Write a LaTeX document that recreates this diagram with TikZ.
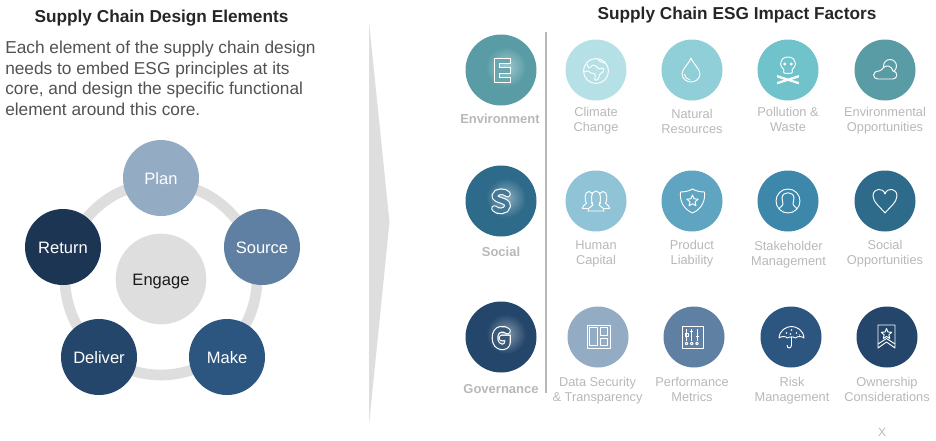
\documentclass[tikz,border=0pt]{standalone}
\usepackage{fontspec}
\setmainfont{Liberation Sans}
\definecolor{cA}{HTML}{B5E0E6}\definecolor{cB}{HTML}{90CFD7}\definecolor{cC}{HTML}{70C2CB}\definecolor{cD}{HTML}{5A9CA5}
\definecolor{cE}{HTML}{91C3D7}\definecolor{cF}{HTML}{5FA4C0}\definecolor{cG}{HTML}{3D87AB}\definecolor{cH}{HTML}{2E6A8A}
\definecolor{cI}{HTML}{93ABC3}\definecolor{cJ}{HTML}{5F80A3}\definecolor{cK}{HTML}{2C5580}\definecolor{cL}{HTML}{23466A}
\definecolor{cM}{HTML}{1B3552}\definecolor{ringgray}{HTML}{DEDEDE}\definecolor{labgray}{HTML}{B8B8B8}
\newcommand{\fsz}[1]{\fontsize{#1}{#1}\selectfont}
\newcommand{\fivestar}[1]{(-90:#1) -- (-54:0.45*#1) -- (-18:#1) -- (18:0.45*#1) -- (54:#1) -- (90:0.45*#1) -- (126:#1) -- (162:0.45*#1) -- (198:#1) -- (234:0.45*#1) -- cycle}
\newcommand{\inlineglyph}[3]{\draw[white,line width=5pt,#3] #2;\draw[#1,line width=3.3pt,#3] #2;}
\newcommand{\tl}[2]{\rule{0pt}{8pt}#1\\#2\rule[-2.5pt]{0pt}{2.5pt}}
\tikzset{
 x=0.75pt,y=-0.75pt,
 bubble/.style={circle,inner sep=0pt,minimum size=45.75pt,draw=none},
 bigbubble/.style={circle,inner sep=0pt,minimum size=53.25pt,draw=none},
 cyc/.style={circle,inner sep=0pt,minimum size=57pt,text=white,font=\fsz{12.4},text height=9.5pt,text depth=0pt},
 factor/.style={align=center,text=labgray,font=\fontsize{9.6}{11.25}\selectfont,inner sep=0pt},
 pillar/.style={text=labgray,font=\fsz{9.75}\bfseries,inner sep=0pt},
 title/.style={text=black!85,font=\fsz{12.93}\bfseries,inner sep=0pt},
 ico/.style={draw=white,line width=0.7pt,line join=round},
}
\begin{document}
\begin{tikzpicture}
\useasboundingbox (0,0) rectangle (936,440);
% left
\node[title] (t1) at (161.5,18) {Supply Chain Design Elements};
\node[anchor=north west,align=left,text=black!68,font=\fontsize{12.96}{15.6}\selectfont,inner sep=0pt] (body) at (5,40.5)
 {Each element of the supply chain design\\needs to embed ESG principles at its\\core, and design the specific functional\\element around this core.};
\draw[ringgray,line width=8pt] (161,279) circle[radius=96];
\node[circle,fill=ringgray,inner sep=0pt,minimum size=68pt,font=\fsz{12.4},text=black!90,text height=10pt,text depth=0pt] (engage) at (161,279) {Engage};
\node[cyc,fill=cI] (plan) at (161,178) {Plan};
\node[cyc,fill=cJ] (source) at (262,247) {Source};
\node[cyc,fill=cK] (make) at (227,357) {Make};
\node[cyc,fill=cL] (deliver) at (99,357) {Deliver};
\node[cyc,fill=cM] (return) at (63,247) {Return};
% arrow
\fill[ringgray] (369,22) -- (389.5,222) -- (369,425) -- cycle;
% right
\node[title] (t2) at (737,15) {Supply Chain ESG Impact Factors};
\draw[labgray,line width=0.9pt] (546,32) -- (546,393);
% big
\node[bigbubble,fill=cD] (E) at (501,70) {};
\node[bigbubble,fill=cH] (S) at (501,201) {};
\node[bigbubble,fill=cL] (G) at (501,337) {};
\shade[inner color=cD!55!white,outer color=cD] (506,67) circle[radius=20];
\shade[inner color=cH!55!white,outer color=cH] (506,198) circle[radius=20];
\shade[inner color=cL!55!white,outer color=cL] (506,334) circle[radius=20];
\inlineglyph{cD!90!white}{(507.5,61) -- (497,61) -- (497,80) -- (507.5,80) (497,70.5) -- (507.5,70.5)}{line cap=rect,miter limit=10}
\inlineglyph{cH!90!white}{(507.5,194) .. controls (505,191) and (496,190.5) .. (495,195.5) .. controls (494,201) and (508,199.5) .. (507.5,206) .. controls (507,212) and (497,212) .. (494.5,208.5)}{line cap=round}
\inlineglyph{cL!90!white}{(507.5,331) .. controls (505,328.5) and (495,327) .. (495,338) .. controls (495,349) and (507.5,349) .. (507.5,342) -- (507.5,338) -- (502,338)}{line cap=round}
\node[pillar] (lE) at (500,119) {Environment};
\node[pillar] (lS) at (501,252) {Social};
\node[pillar] (lG) at (501,389) {Governance};
% row 1
\node[bubble,fill=cA] (a1) at (596,70) {};
\node[bubble,fill=cB] (a2) at (692,70) {};
\node[bubble,fill=cC] (a3) at (788,70) {};
\node[bubble,fill=cD] (a4) at (885,70) {};
\node[factor] (la1) at (596,120.8) {\tl{Climate}{Change}};
\node[factor] (la2) at (692,122.6) {\tl{Natural}{Resources}};
\node[factor] (la3) at (788,120.8) {\tl{Pollution \&}{Waste}};
\node[factor] (la4) at (885,120.8) {\tl{Environmental}{Opportunities}};
% row 2
\node[bubble,fill=cE] (b1) at (596,201) {};
\node[bubble,fill=cF] (b2) at (692,201) {};
\node[bubble,fill=cG] (b3) at (788,201) {};
\node[bubble,fill=cH] (b4) at (885,201) {};
\node[factor] (lb1) at (596,253.2) {\tl{Human}{Capital}};
\node[factor] (lb2) at (692,253.2) {\tl{Product}{Liability}};
\node[factor] (lb3) at (788.5,254.3) {\tl{Stakeholder}{Management}};
\node[factor] (lb4) at (885,253.2) {\tl{Social}{Opportunities}};
% row 3
\node[bubble,fill=cI] (c1) at (598,337) {};
\node[bubble,fill=cJ] (c2) at (694,337) {};
\node[bubble,fill=cK] (c3) at (791,337) {};
\node[bubble,fill=cL] (c4) at (887,337) {};
\node[factor] (lc1) at (597.5,390.5) {\tl{Data Security}{\& Transparency}};
\node[factor] (lc2) at (692,390.5) {\tl{Performance}{Metrics}};
\node[factor] (lc3) at (792,390.5) {\tl{Risk}{Management}};
\node[factor] (lc4) at (887,390.5) {\tl{Ownership}{Considerations}};
\node[text=labgray,font=\fsz{9},inner sep=0pt] (xmark) at (882,432) {X};
% globe
\begin{scope}[shift={(596,71)}]
 \draw[ico] (0,0) circle[radius=12.5];
 \draw[ico] plot[smooth,tension=0.6] coordinates {(-9,-7)(-7,-3)(-3,-6)(0,-5)(3,-2)(7,-3)(7,1)(4,3)(2,8)(-1,9)(-1,3)(-5,2)(-8,0)(-12,1)};
 \draw[ico] (2,-12) .. controls (3,-9) and (7,-9) .. (9,-8);
\end{scope}
% drop
\begin{scope}[shift={(691,70)}]
 \draw[ico] (0,-12) .. controls (-3,-5) and (-9,-1) .. (-9,4) .. controls (-9,9) and (-4,12) .. (0,12) .. controls (4,12) and (9,9) .. (9,4) .. controls (9,-1) and (3,-5) .. (0,-12) -- cycle;
 \draw[ico] (-6.5,4) .. controls (-6.5,7) and (-4,9.5) .. (-1,10);
\end{scope}
% skull
\begin{scope}[shift={(788,65)}]
 \draw[ico] plot[smooth cycle,tension=0.6] coordinates {(0,-8)(5,-6.5)(7.5,-1)(5.5,3)(4,5)(4,8)(-4,8)(-4,5)(-5.5,3)(-7.5,-1)(-5,-6.5)};
 \fill[white] (-3.3,-1) circle[radius=1.6] (3.3,-1) circle[radius=1.6];
 \draw[ico] (-11,10.5) -- (11,17.5) (-11,11.9) -- (11,18.9) (11,10.5) -- (-11,17.5) (11,11.9) -- (-11,18.9);
\end{scope}
% cloud
\begin{scope}[shift={(885,72)}]
 \draw[ico] (5,-6) circle[radius=6.5];
 \draw[ico,fill=cD] (-7,7) -- (8,7) .. controls (13,7) and (13,-1) .. (8,-1) .. controls (7,-6) and (1,-8) .. (-2,-4) .. controls (-3,-2.5) and (-4,-1.5) .. (-6,-1) .. controls (-13,-1) and (-13,7) .. (-7,7) -- cycle;
\end{scope}
% people
\begin{scope}[shift={(596,201)}]
 \foreach \dx in {-7,7}{
 \draw[ico,fill=cE,shift={(\dx,-1)},scale=0.85] (-8,10) -- (8,10) .. controls (8,6) and (4,6) .. (3,4) .. controls (5,1) and (6,-10) .. (0,-10) .. controls (-6,-10) and (-5,1) .. (-3,4) .. controls (-4,6) and (-8,6) .. (-8,10) -- cycle;}
 \draw[ico,fill=cE] (-8,10) -- (8,10) .. controls (8,6) and (4,6) .. (3,4) .. controls (5,1) and (6,-10) .. (0,-10) .. controls (-6,-10) and (-5,1) .. (-3,4) .. controls (-4,6) and (-8,6) .. (-8,10) -- cycle;
\end{scope}
% shield
\begin{scope}[shift={(692.5,201)}]
 \draw[ico] (-12,-9) .. controls (-8,-9) and (-3,-10) .. (0,-12) .. controls (3,-10) and (8,-9) .. (12,-9) .. controls (13,0) and (9,8) .. (0,12) .. controls (-9,8) and (-13,0) .. (-12,-9) -- cycle;
 \draw[ico] \fivestar{6};
\end{scope}
% stakeholder
\begin{scope}[shift={(788,201)}]
 \draw[ico] (0,0) circle[radius=12];
 \draw[ico] (-9,8) .. controls (-7,5) and (-5,5) .. (-5,3) -- (-6,-3) .. controls (-6,-10) and (6,-10) .. (6,-3) -- (5,3) .. controls (5,5) and (7,5) .. (9,8);
\end{scope}
% heart
\begin{scope}[shift={(885,201)}]
 \draw[ico] (0,12) .. controls (-4,7) and (-12,1) .. (-12,-5) .. controls (-12,-13) and (-2,-14) .. (0,-7) .. controls (2,-14) and (12,-13) .. (12,-5) .. controls (12,1) and (4,7) .. (0,12) -- cycle;
\end{scope}
% data
\draw[ico] (587,325) rectangle (610,348) (589.5,327.5) rectangle (597.5,345.5) (600,327.5) rectangle (607.5,335.5) (600,338) rectangle (607.5,345.5);
% performance
\draw[ico] (682,326) rectangle (703,348);
\draw[ico] (686.5,329) -- (686.5,341) (691.7,329) -- (691.7,341) (697,329) -- (697,341);
\draw[ico,fill=cJ] (686.5,343.5) circle[radius=1.4] (691.7,343.5) circle[radius=1.4] (697,343.5) circle[radius=1.4];
\draw[ico] (685,333) rectangle (688,336) (690.2,331) -- (693.2,331) (695.5,336) -- (698.5,336);
% umbrella
\begin{scope}[shift={(791.5,337)}]
 \draw[ico] (-12.5,1) .. controls (-12,-7) and (-5,-10.5) .. (0,-10.5) .. controls (5,-10.5) and (12,-7) .. (12.5,1) .. controls (10,-1) and (6,-1) .. (4,1) .. controls (2,-0.5) and (-2,-0.5) .. (-4,1) .. controls (-6,-1) and (-10,-1) .. (-12.5,1) -- cycle;
 \draw[ico] (0,0) -- (0,8) .. controls (0,12) and (-4.5,12) .. (-4.5,8);
 \fill[white] (-5,-4) circle[radius=0.8] (0,-7) circle[radius=0.8] (5,-4) circle[radius=0.8] (-1,-3) circle[radius=0.8] (8,-2) circle[radius=0.7];
\end{scope}
% ribbon
\draw[ico] (878,325) -- (895,325) -- (895,348) -- (886.5,342) -- (878,348) -- cycle;
\draw[ico] (878,344) -- (886.5,338.5) -- (895,344);
\draw[ico,shift={(886.5,334)}] \fivestar{5.5};
\end{tikzpicture}
\end{document}
